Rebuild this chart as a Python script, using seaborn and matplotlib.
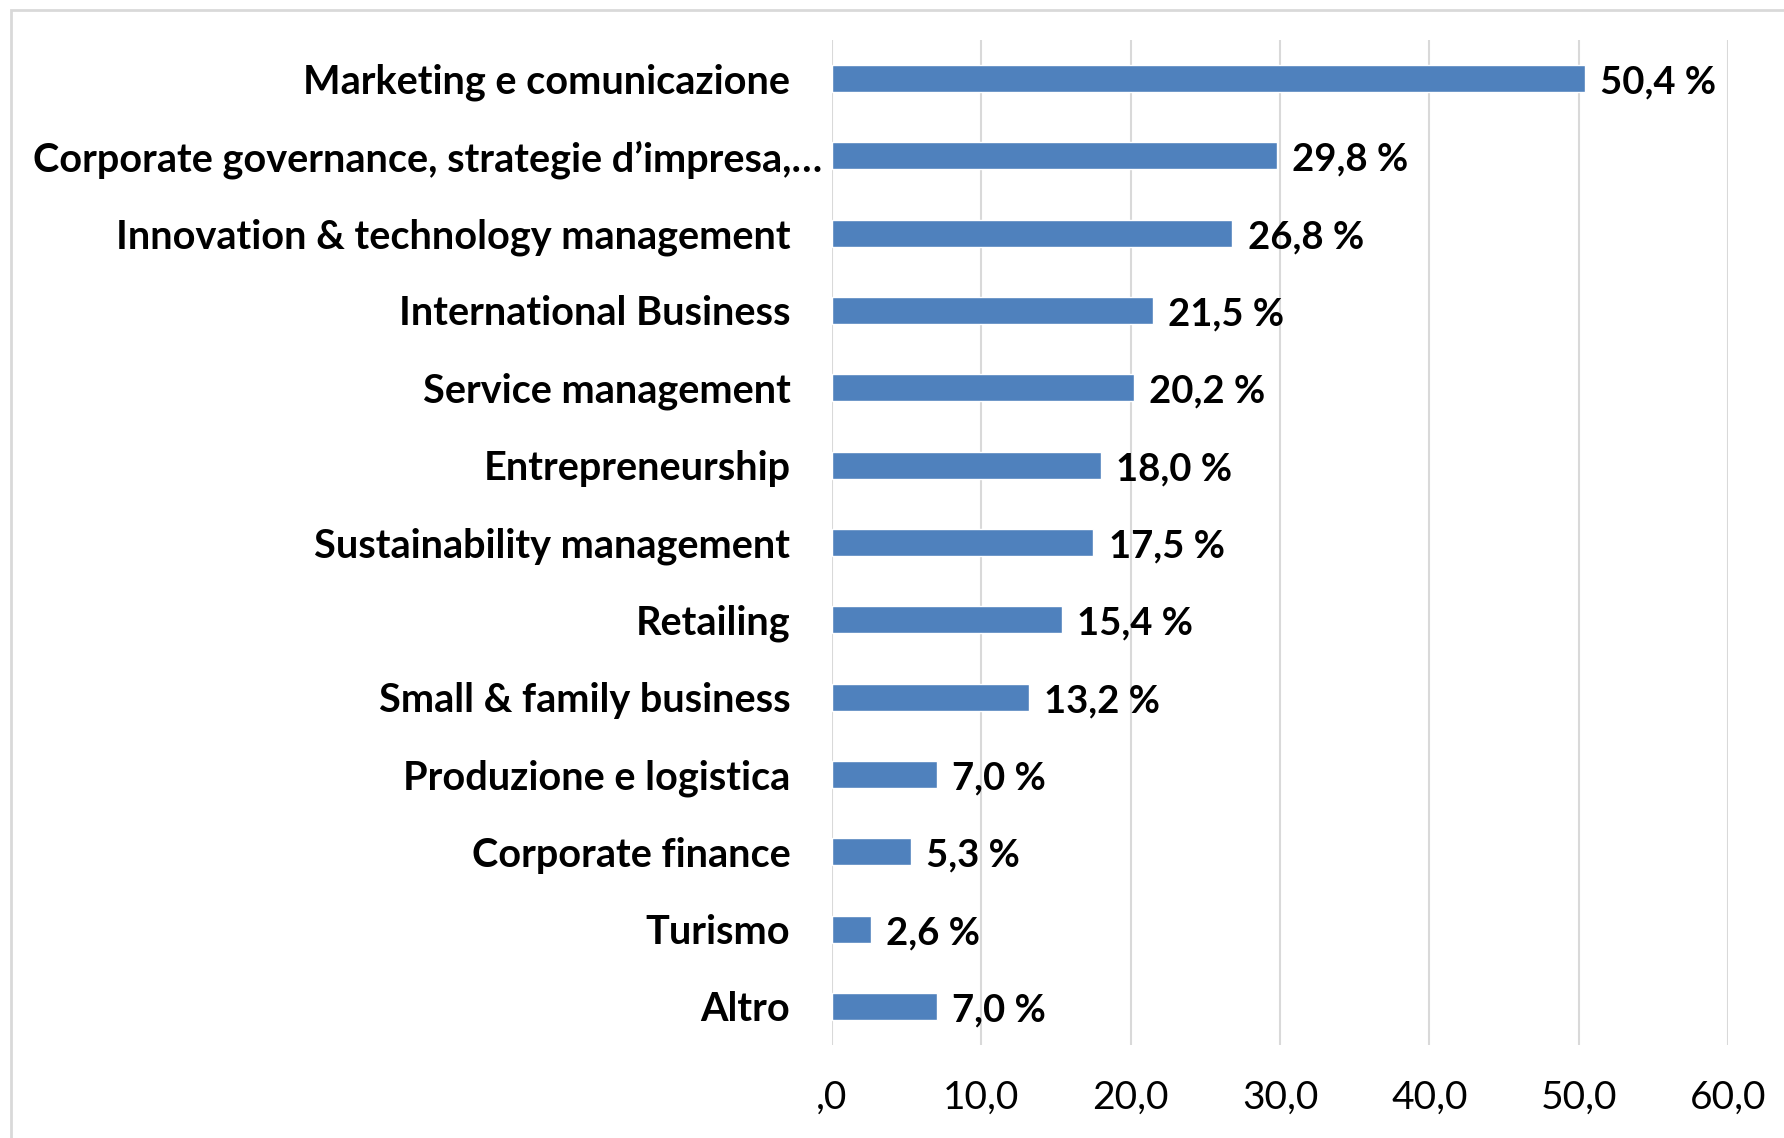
import matplotlib
matplotlib.use("Agg")
import matplotlib.pyplot as plt
from matplotlib.patches import Rectangle
from matplotlib.ticker import FuncFormatter
from matplotlib.transforms import ScaledTranslation
import seaborn as sns
import pandas as pd

categories = [
    "Marketing e comunicazione",
    "Corporate governance, strategie d\u2019impresa,\u2026",
    "Innovation & technology management",
    "International Business",
    "Service management",
    "Entrepreneurship",
    "Sustainability management",
    "Retailing",
    "Small & family business",
    "Produzione e logistica",
    "Corporate finance",
    "Turismo",
    "Altro",
]
values = [50.4, 29.8, 26.8, 21.5, 20.2, 18.0, 17.5, 15.4, 13.2, 7.0, 5.3, 2.6, 7.0]
x_ticks = [0, 10, 20, 30, 40, 50, 60]

df = pd.DataFrame({"Area": categories, "Valore": values})

sns.set_style("white")
plt.rcParams["font.family"] = ["Lato", "DejaVu Sans"]
plt.rcParams["text.color"] = "black"
plt.rcParams["xtick.color"] = "black"
plt.rcParams["ytick.color"] = "black"

fig = plt.figure(figsize=(17.84, 11.38), dpi=100)
ax = fig.add_axes([0.4664, 0.0817, 0.5022, 0.8833])

sns.barplot(data=df, x="Valore", y="Area", order=categories, color="#4F81BD",
            saturation=1, width=0.35, ax=ax)

ax.set_xlim(0, 60)
ax.set_xticks(x_ticks)

def fmt(v, pos):
    s = f"{v:.1f}".replace(".", ",")
    return s[1:] if v == 0 else s

ax.xaxis.set_major_formatter(FuncFormatter(fmt))
ax.tick_params(axis="x", length=0, pad=25, labelsize=28)
ax.tick_params(axis="y", length=0, pad=30)
for lab in ax.get_yticklabels():
    lab.set_fontsize(28.5)
    lab.set_fontweight("bold")

# l'etichetta troncata sporge verso il grafico come nell'originale
long_lab = ax.get_yticklabels()[1]
long_lab.set_transform(long_lab.get_transform() + ScaledTranslation(0.32, 0, fig.dpi_scale_trans))

ax.grid(axis="x", color="#D9D9D9", linewidth=1.5)
ax.set_axisbelow(True)
for s in ax.spines.values():
    s.set_visible(False)
ax.set_xlabel("")
ax.set_ylabel("")

for i, v in enumerate(values):
    ax.annotate(f"{v:.1f} %".replace(".", ","), xy=(v, i), xytext=(11, -3),
                textcoords="offset points", ha="left", va="center",
                fontsize=27.5, fontweight="bold")

fig.patches.append(Rectangle((0.0062, -0.05), 1.1, 1.05 - 0.0088, transform=fig.transFigure,
                             fill=False, edgecolor="#D9D9D9", linewidth=2))

fig.savefig("out.png", dpi=100)
plt.close(fig)
